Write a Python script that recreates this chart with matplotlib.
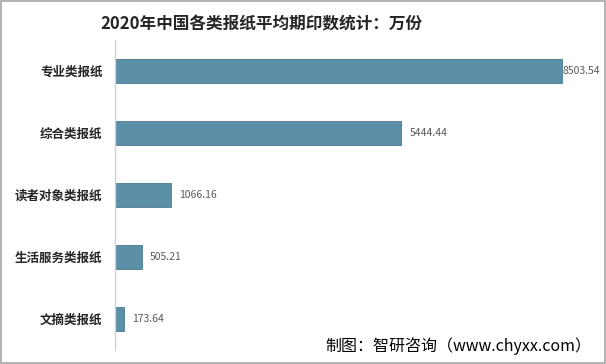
import matplotlib.pyplot as plt
from matplotlib.patches import Rectangle

plt.rcParams['font.family'] = ['Noto Sans CJK SC', 'DejaVu Sans']

# data (unit: 万份)
categories = ["专业类报纸", "综合类报纸", "读者对象类报纸", "生活服务类报纸", "文摘类报纸"]
values = [8503.54, 5444.44, 1066.16, 505.21, 173.64]
value_labels = ["8503.54", "5444.44", "1066.16", "505.21", "173.64"]

title = "2020年中国各类报纸平均期印数统计：万份"
source = "制图：智研咨询（www.chyxx.com）"

fig = plt.figure(figsize=(6.06, 3.64), dpi=100)
ax = fig.add_axes([115 / 606, 1 - 350 / 364, 485 / 606, 310 / 364])

ypos = list(range(len(categories)))
ax.barh(ypos, values, height=0.39, color="#5b8fa8", edgecolor="#4a7a92", linewidth=0.6)

xmax = 9220
for y, v, lab in zip(ypos, values, value_labels):
    # label sits just past the bar; the longest one is pushed against it like in Excel
    off = 6 if v < 0.9 * xmax else 0
    ax.annotate(lab, (v, y), xytext=(off, 0), textcoords="offset points",
                va="center", ha="left", fontsize=7.5, color="#595959",
                annotation_clip=False)

ax.set_yticks(ypos)
ax.set_yticklabels(categories, fontsize=9, fontweight="bold", color="#262626")
ax.set_ylim(len(categories) - 0.5, -0.5)
ax.set_xlim(0, xmax)
ax.set_xticks([])
ax.tick_params(axis="y", length=0, pad=9)
for side in ["top", "right", "bottom"]:
    ax.spines[side].set_visible(False)
ax.spines["left"].set_color("#d0d0d0")
ax.spines["left"].set_linewidth(1)

fig.text(261 / 606, 1 - 24 / 364, title, ha="center", va="center",
         fontsize=12, fontweight="bold", color="#262626")
fig.text(591 / 606, 1 - 346 / 364, source, ha="right", va="center",
         fontsize=11.5, color="black")

# grey frame around the whole picture
fig.patches.append(Rectangle((0.001, 0.002), 0.997, 0.996, transform=fig.transFigure,
                             fill=False, edgecolor="#a6a6a6", linewidth=1.2))

fig.savefig("out.png", dpi=100)
